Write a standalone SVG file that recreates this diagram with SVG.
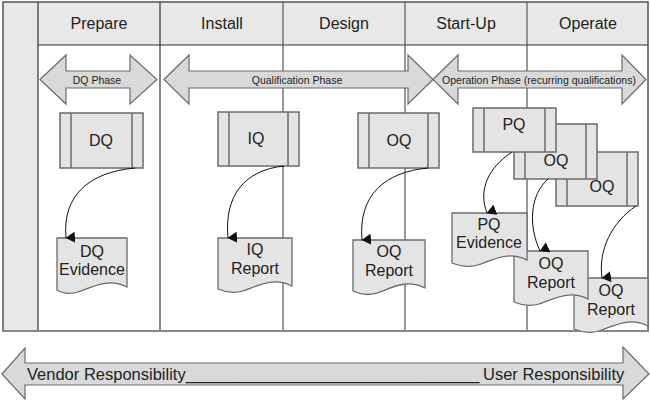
<svg xmlns="http://www.w3.org/2000/svg" width="650" height="400" viewBox="0 0 650 400">
<defs>
<marker id="ah" markerWidth="11" markerHeight="10" refX="5.5" refY="9" orient="auto" markerUnits="userSpaceOnUse" viewBox="0 0 11 10">
<path d="M0,0 L11,0 L5.5,9.5 Z" fill="#111"/>
</marker>
</defs>
<style>
.t{font-family:"Liberation Sans",Arial,sans-serif;fill:#222;text-anchor:middle}
.hdr{font-size:16px}
.lbl{font-size:16px}
.doc{font-size:16px}
.ph{font-size:10.5px}
.band{fill:#e8e8e8}
.arrow{fill:#d9d9d9;stroke:#6b6b6b;stroke-width:1.2}
.box{fill:#e4e4e4;stroke:#6b6b6b;stroke-width:1.5}
.inner{stroke:#6b6b6b;stroke-width:1.5}
.docs{fill:#e4e4e4;stroke:#6b6b6b;stroke-width:1.3}
.conn{fill:none;stroke:#111;stroke-width:1}
</style>
<rect x="0" y="0" width="650" height="400" fill="#fff"/>
<g id="frame">
<rect class="band" x="3" y="2" width="645" height="43"/>
<rect class="band" x="3" y="2" width="35" height="329"/>
<line x1="160" y1="2" x2="160" y2="331" stroke="#333" stroke-width="1.2"/>
<line x1="283" y1="2" x2="283" y2="331" stroke="#777" stroke-width="1.5"/>
<line x1="405" y1="2" x2="405" y2="331" stroke="#777" stroke-width="1.5"/>
<line x1="527" y1="2" x2="527" y2="331" stroke="#777" stroke-width="1.5"/>
<line x1="38" y1="2" x2="38" y2="331" stroke="#333" stroke-width="1.2"/>
<line x1="38" y1="45" x2="648" y2="45" stroke="#333" stroke-width="1.2"/>
<rect x="3" y="2" width="645" height="329" fill="none" stroke="#555" stroke-width="1.5"/>
<line x1="3" y1="331" x2="648" y2="331" stroke="#888" stroke-width="2"/>
</g>
<g id="headers">
<text class="t hdr" x="99" y="29">Prepare</text>
<text class="t hdr" x="222" y="29">Install</text>
<text class="t hdr" x="344" y="29">Design</text>
<text class="t hdr" x="466" y="29">Start-Up</text>
<text class="t hdr" x="588" y="29">Operate</text>
</g>
<g id="dq-phase">
<path class="arrow" d="M40,79.5 L66,55 V71 H130 V55 L157,79.5 L130,104 V88 H66 V104 Z"/>
<text class="t ph" x="97" y="83.5">DQ Phase</text>
</g>
<g id="qualification-phase">
<path class="arrow" d="M164,79.5 L189,55 V71 H408 V55 L433,79.5 L408,104 V88 H189 V104 Z"/>
<text class="t ph" x="297" y="83.5">Qualification Phase</text>
</g>
<g id="operation-phase">
<path class="arrow" d="M433,79.5 L458,55 V71 H622 V55 L646,79.5 L622,104 V88 H458 V104 Z"/>
<text class="t ph" x="539" y="83.5">Operation Phase (recurring qualifications)</text>
</g>
<g id="dq">
<rect class="box" x="60" y="113" width="83" height="55"/>
<line class="inner" x1="71" y1="113" x2="71" y2="168"/>
<line class="inner" x1="132" y1="113" x2="132" y2="168"/>
<text class="t lbl" x="101" y="146">DQ</text>
</g>
<g id="iq">
<rect class="box" x="218" y="112" width="81" height="54"/>
<line class="inner" x1="229" y1="112" x2="229" y2="166"/>
<line class="inner" x1="288" y1="112" x2="288" y2="166"/>
<text class="t lbl" x="256" y="144">IQ</text>
</g>
<g id="oq-design">
<rect class="box" x="358" y="113" width="81" height="55"/>
<line class="inner" x1="369" y1="113" x2="369" y2="168"/>
<line class="inner" x1="428" y1="113" x2="428" y2="168"/>
<text class="t lbl" x="399" y="146">OQ</text>
</g>
<g id="oq-operate-2">
<rect class="box" x="556" y="152" width="82" height="54"/>
<line class="inner" x1="567" y1="152" x2="567" y2="206"/>
<line class="inner" x1="627" y1="152" x2="627" y2="206"/>
<text class="t lbl" x="602" y="192">OQ</text>
</g>
<g id="oq-operate-1">
<rect class="box" x="514" y="124" width="83" height="55"/>
<line class="inner" x1="525" y1="124" x2="525" y2="179"/>
<line class="inner" x1="586" y1="124" x2="586" y2="179"/>
<text class="t lbl" x="556" y="166">OQ</text>
</g>
<g id="pq">
<rect class="box" x="473" y="108" width="83" height="44"/>
<line class="inner" x1="484" y1="108" x2="484" y2="152"/>
<line class="inner" x1="545" y1="108" x2="545" y2="152"/>
<text class="t lbl" x="514" y="130">PQ</text>
</g>
<g id="dq-evidence">
<path class="docs" d="M57,238 H127 V287 C107,277 91,288 78,292 C68,295 62,293 57,290 Z"/>
<text class="t doc" x="92" y="257">DQ</text>
<text class="t doc" x="92" y="275">Evidence</text>
</g>
<g id="iq-report">
<path class="docs" d="M218,238 H292 V286 C272,276 256,287 243,291 C233,294 225,292 218,289 Z"/>
<text class="t doc" x="255" y="255">IQ</text>
<text class="t doc" x="255" y="274">Report</text>
</g>
<g id="oq-report-design">
<path class="docs" d="M353,240 H425 V288 C405,278 390,289 377,293 C367,296 359,294 353,291 Z"/>
<text class="t doc" x="389" y="257">OQ</text>
<text class="t doc" x="389" y="276">Report</text>
</g>
<g id="oq-report-3">
<path class="docs" d="M574,278 H648 V326 C628,316 612,327 599,331 C589,334 581,332 574,329 Z"/>
<text class="t doc" x="611" y="296">OQ</text>
<text class="t doc" x="611" y="315">Report</text>
</g>
<g id="oq-report-2">
<path class="docs" d="M514,251 H588 V299 C568,289 552,300 539,304 C529,307 521,305 514,302 Z"/>
<text class="t doc" x="551" y="269">OQ</text>
<text class="t doc" x="551" y="288">Report</text>
</g>
<g id="pq-evidence">
<path class="docs" d="M452,213 H527 V260 C507,250 491,261 478,265 C468,268 460,266 452,263 Z"/>
<text class="t doc" x="489" y="230">PQ</text>
<text class="t doc" x="489" y="248">Evidence</text>
</g>
<g id="connectors">
<path class="conn" marker-end="url(#ah)" d="M135,168 C90,172 62,195 66,238"/>
<path class="conn" marker-end="url(#ah)" d="M284,166 C245,170 224,195 228,238"/>
<path class="conn" marker-end="url(#ah)" d="M428,168 C385,172 358,195 362,240"/>
<path class="conn" marker-end="url(#ah)" d="M512,152 C488,168 478,190 487,213"/>
<path class="conn" marker-end="url(#ah)" d="M548,179 C530,195 528,225 540,251"/>
<path class="conn" marker-end="url(#ah)" d="M636,206 C612,222 598,250 602,278"/>
</g>
<g id="responsibility">
<path class="arrow" d="M2,374 L25,348 V363 H623 V347 L649,374 L623,399 V385 H25 V399 Z"/>
<text y="380" font-family="Liberation Sans, Arial, sans-serif" font-size="16.5" fill="#222"><tspan x="27">Vendor Responsibility</tspan><tspan>________________________________</tspan><tspan x="483">User Responsibility</tspan></text>
</g>
</svg>
